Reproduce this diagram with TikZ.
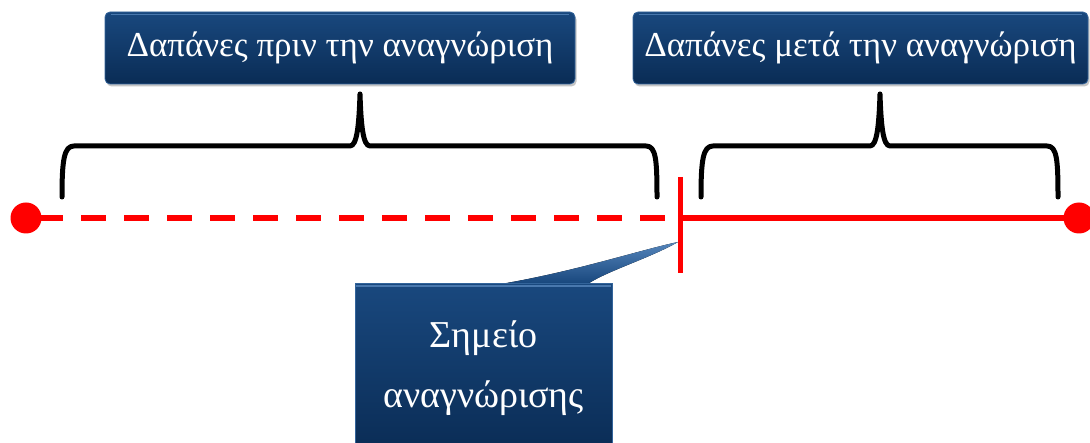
\documentclass[tikz,border=0pt]{standalone}
\usepackage{fontspec}
\setmainfont{Liberation Serif}
\usetikzlibrary{shadows,calc}
\definecolor{navytop}{HTML}{19487E}
\definecolor{navybot}{HTML}{0A2C55}
\definecolor{navyedge}{HTML}{33649B}
\definecolor{bevel}{HTML}{5585BB}
\tikzset{
  label box/.style={rounded corners=5pt, top color=navytop, bottom color=navybot,
    draw=navyedge, line width=0.8pt, text=white, inner sep=0pt,
    font=\fontsize{35}{40}\selectfont,
    drop shadow={opacity=0.45, shadow xshift=1.5pt, shadow yshift=-2.5pt}},
  call box/.style={top color=navytop, bottom color=navybot, draw=navyedge,
    line width=0.8pt, text=white, inner sep=0pt, align=center,
    font=\fontsize{38}{60}\selectfont},
  brace line/.style={black, line width=5pt, line cap=round, line join=round},
  time line/.style={red, line width=5.5pt},
  end dot/.style={circle, fill=red, minimum size=31pt, inner sep=0pt},
}
\begin{document}
\begin{tikzpicture}[x=1pt,y=-1pt]
  \clip (0,0) rectangle (1090,443);
  \fill[white] (0,0) rectangle (1090,443);

  % end points and the recognition mark on the time line
  \node[end dot] (start) at (26,218) {};
  \node[end dot] (finish) at (1079,218) {};
  \coordinate (mark) at (680,218);
  \coordinate (marktop) at (680,177);
  \coordinate (markbot) at (680,273);

  % before recognition: dashed, after: solid
  \draw[time line, dash pattern=on 25pt off 18pt, dash phase=-12pt] (start.center) -- (mark);
  \draw[time line] (mark) -- (finish.center);
  \draw[red, line width=5pt] (marktop) -- (markbot);

  % braces
  \draw[brace line] (62,197) .. controls (62,160) and (64,146) .. (74,146)
    -- (350,146) .. controls (357,146) and (359,125) .. (360,94)
    .. controls (361,125) and (363,146) .. (370,146)
    -- (646,146) .. controls (656,146) and (657,160) .. (657,197);
  \draw[brace line] (701,197) .. controls (701,160) and (703,146) .. (713,146)
    -- (870,146) .. controls (877,146) and (879,125) .. (880,94)
    .. controls (881,125) and (883,146) .. (890,146)
    -- (1047,146) .. controls (1057,146) and (1058,160) .. (1058,197);

  % headings above the braces
  \node[label box, minimum width=470pt, minimum height=72pt] (before) at (340,48)
    {Δαπάνες πριν την αναγνώριση};
  \node[label box, minimum width=455pt, minimum height=72pt] (after) at (860.5,48)
    {Δαπάνες μετά την αναγνώριση};
  \draw[bevel, line width=1.5pt, opacity=0.8] ([xshift=6pt,yshift=-3pt]before.north west) -- ([xshift=-6pt,yshift=-3pt]before.north east);
  \draw[bevel, line width=1.5pt, opacity=0.8] ([xshift=6pt,yshift=-3pt]after.north west) -- ([xshift=-6pt,yshift=-3pt]after.north east);

  % callout for the recognition point
  \coordinate (tip) at (678,242);
  \node[call box, anchor=north, minimum width=257pt, minimum height=170pt] (point) at (483.5,283)
    {Σημείο\\αναγνώρισης};
  \fill[top color=bevel, bottom color=navytop]
    ($(point.north west)!0.59!(point.north east)$) .. controls (580,270) and (640,250) .. (tip)
    .. controls (650,258) and (610,270) .. ($(point.north west)!0.91!(point.north east)$) -- cycle;
  \draw[bevel, line width=1.5pt, opacity=0.8] ([xshift=1pt,yshift=-3pt]point.north west) -- ([xshift=-1pt,yshift=-3pt]point.north east);
\end{tikzpicture}
\end{document}
